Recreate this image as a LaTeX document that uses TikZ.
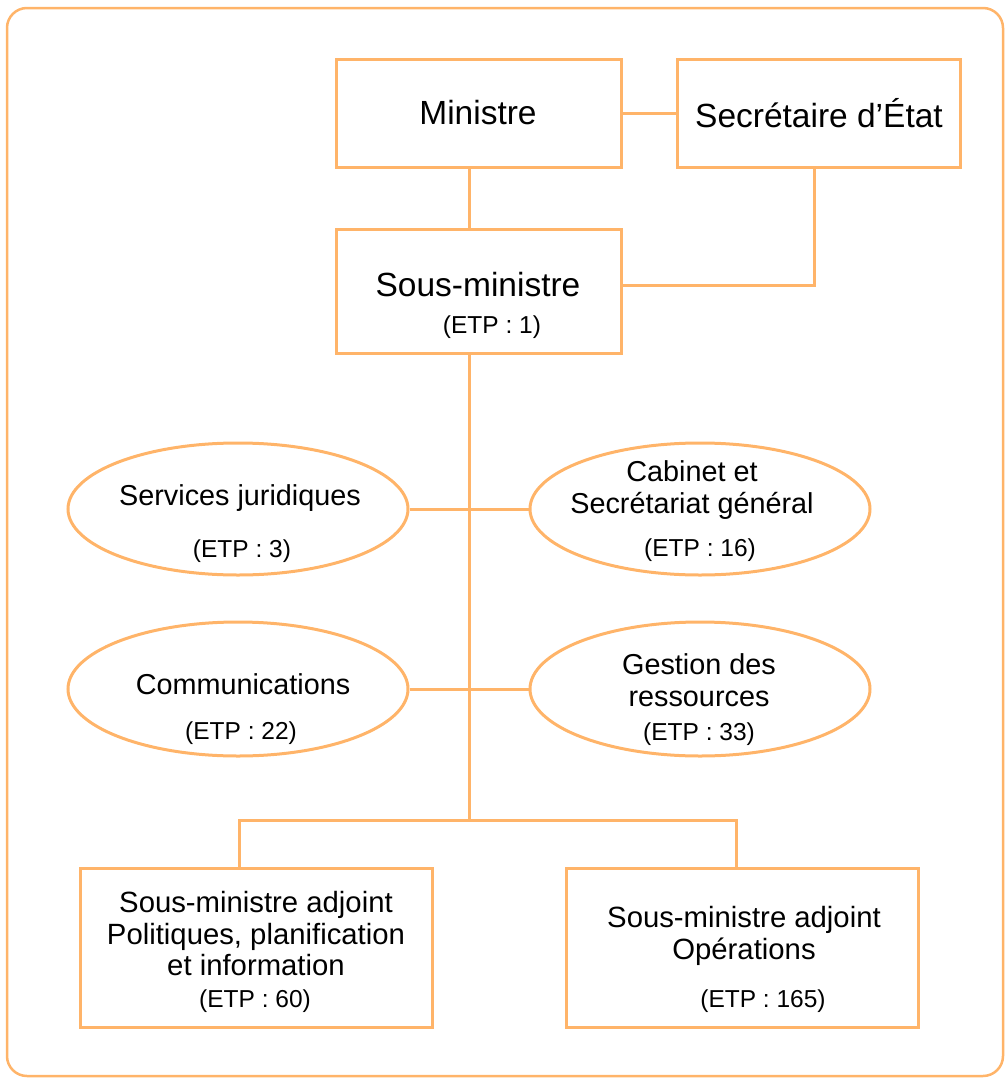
\documentclass[tikz,border=0pt]{standalone}
\usepackage{fontspec}
\setmainfont{Liberation Sans}
\usetikzlibrary{shapes.geometric}
\definecolor{org}{RGB}{255,180,105}
\tikzset{
  box/.style={draw=org, line width=3pt, rectangle, inner sep=0pt},
  oval/.style={draw=org, line width=3pt, ellipse, inner sep=0pt},
  link/.style={draw=org, line width=3pt},
  big/.style={inner sep=0pt, font=\fontsize{33.5}{38}\selectfont},
  mid/.style={inner sep=0pt, align=center, font=\fontsize{29.3}{31.5}\selectfont},
  ell/.style={inner sep=0pt, align=center, font=\fontsize{28.8}{31.5}\selectfont},
  etp/.style={inner sep=0pt, font=\fontsize{24.5}{28}\selectfont},
}
\begin{document}
\begin{tikzpicture}[x=1pt,y=-1pt]
\useasboundingbox (0,0) rectangle (1005,1079);
\draw[org, line width=2.5pt, rounded corners=20pt] (7,8) rectangle (1003,1076);
% boxes
\node[box, minimum width=285pt, minimum height=108pt] (min) at (478.5,113) {};
\node[box, minimum width=283pt, minimum height=108pt] (sec) at (818.5,113) {};
\node[box, minimum width=285pt, minimum height=124pt] (sm) at (478.5,291) {};
\node[oval, minimum width=340pt, minimum height=132pt] (sj) at (238,509) {};
\node[oval, minimum width=340pt, minimum height=132pt] (cab) at (700,509) {};
\node[oval, minimum width=340pt, minimum height=134pt] (com) at (238,689) {};
\node[oval, minimum width=340pt, minimum height=134pt] (ges) at (700,689) {};
\node[box, minimum width=352pt, minimum height=159pt] (sma1) at (256,947.5) {};
\node[box, minimum width=352pt, minimum height=159pt] (sma2) at (742,947.5) {};
% texts
\node[big] (tmin) at (478,113) {Ministre};
\node[big] (tsec) at (819,113) {Secrétaire d’État};
\node[big] (tsm) at (478,285) {Sous-ministre};
\node[etp] (esm) at (492,327) {(ETP : 1)};
\node[ell] (tsj) at (240,498) {Services juridiques};
\node[etp] (esj) at (242,551) {(ETP : 3)};
\node[ell] (tcab) at (692,490) {Cabinet et\\Secrétariat général};
\node[etp] (ecab) at (700,550) {(ETP : 16)};
\node[ell] (tcom) at (243,684) {Communications};
\node[etp] (ecom) at (241,733) {(ETP : 22)};
\node[ell] (tges) at (699,680) {Gestion des\\ressources};
\node[etp] (eges) at (699,734) {(ETP : 33)};
\node[mid] (tsma1) at (256,934) {Sous-ministre adjoint\\Politiques, planification\\et information};
\node[etp] (esma1) at (255,1001) {(ETP : 60)};
\node[mid] (tsma2) at (744,936) {Sous-ministre adjoint\\Opérations};
\node[etp] (esma2) at (763,1001) {(ETP : 165)};
% connectors
\coordinate (j3) at (469,820);
\draw[link] (min.east) -- (sec.west);
\draw[link] (min.south -| 469,0) -- (sm.north -| 469,0);
\draw[link] (sec.south -| 814,0) |- (sm.east |- 0,285);
\draw[link] (sm.south -| 469,0) -- (j3);
\draw[link] (sj.east) -- (cab.west);
\draw[link] (com.east) -- (ges.west);
\draw[link] (j3) -| (sma1.north -| 239,0);
\draw[link] (j3) -| (sma2.north -| 736,0);
\end{tikzpicture}
\end{document}
